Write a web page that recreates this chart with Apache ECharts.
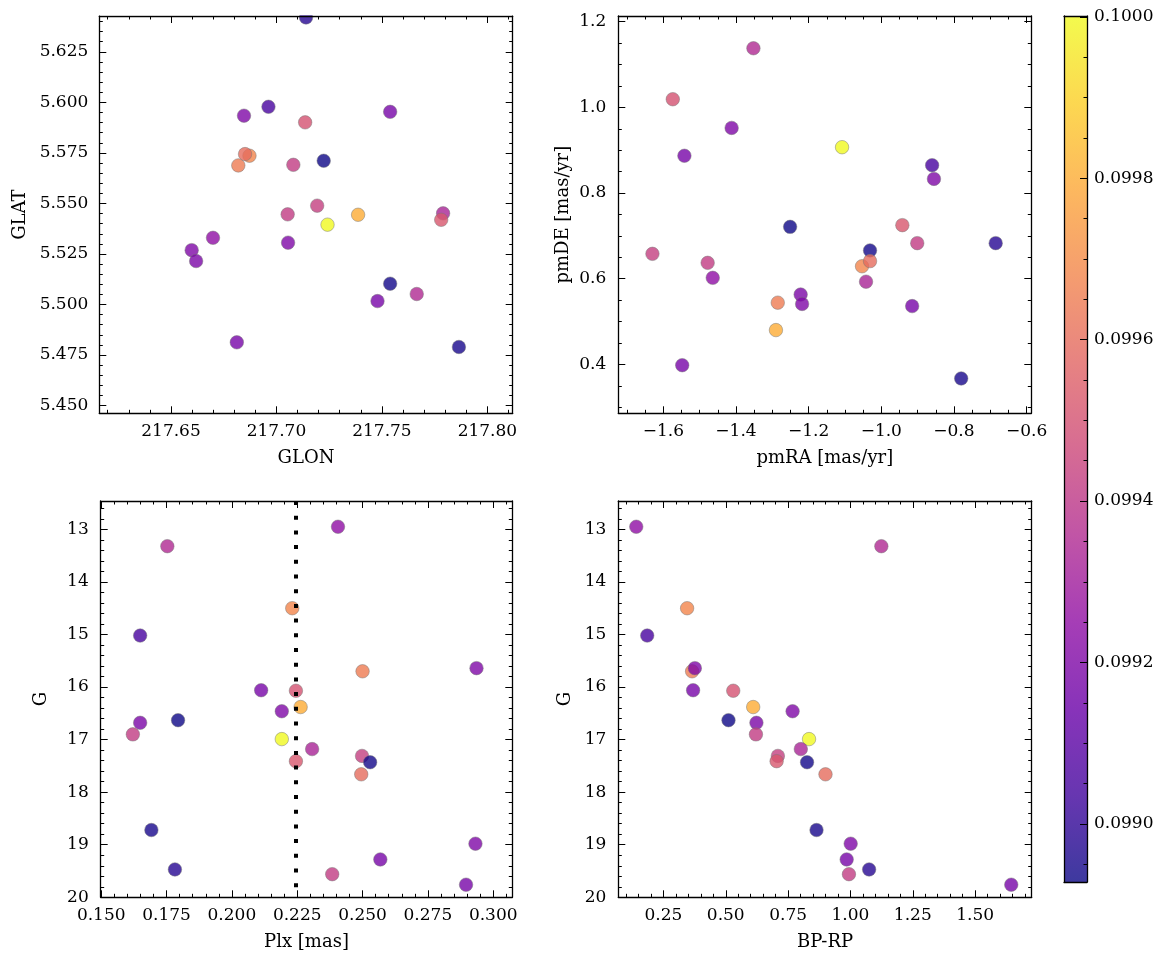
<!DOCTYPE html>
<html><head><meta charset="utf-8">
<script src="https://cdn.jsdelivr.net/npm/echarts@6/dist/echarts.min.js"></script>
<style>html,body{margin:0;padding:0;background:#fff}#c{width:1166px;height:965px}</style>
</head><body><div id="c"></div>
<script>
// ---- data (one entry per star) ----
const glon = [217.6699,217.7665,217.6872,217.6962,217.6819,217.6846,217.7539,217.7136,217.7387,217.6598,217.6619,217.7224,217.7080,217.7242,217.7790,217.7193,217.7539,217.7781,217.6851,217.7865,217.7055,217.7479,217.7140,217.7053,217.6812];
const glat = [5.5330,5.5052,5.5736,5.5978,5.5688,5.5934,5.5953,5.5901,5.5444,5.5269,5.5215,5.5711,5.5691,5.5395,5.5451,5.5489,5.5103,5.5419,5.5744,5.4790,5.5306,5.5017,5.6420,5.5446,5.4813];
const pmra = [-1.464,-1.352,-1.053,-0.860,-1.285,-1.412,-1.542,-1.574,-1.290,-0.855,-1.222,-1.251,-1.478,-1.108,-1.042,-1.630,-1.031,-0.942,-1.031,-0.780,-1.218,-0.915,-0.685,-0.901,-1.548];
const pmde = [0.602,1.138,0.629,0.865,0.544,0.952,0.887,1.019,0.480,0.833,0.563,0.721,0.637,0.907,0.593,0.658,0.666,0.725,0.641,0.367,0.541,0.536,0.683,0.683,0.398];
const plx  = [0.2406,0.1753,0.2231,0.1649,0.2500,0.2936,0.2112,0.2245,0.2263,0.2191,0.1649,0.1794,0.1621,0.2191,0.2307,0.2498,0.2529,0.2245,0.2495,0.1692,0.2932,0.2568,0.1782,0.2384,0.2896];
const gmag = [12.95,13.32,14.50,15.02,15.70,15.64,16.06,16.07,16.38,16.46,16.68,16.63,16.90,16.99,17.18,17.31,17.43,17.41,17.66,18.72,18.98,19.28,19.47,19.56,19.76];
const bprp = [0.141,1.124,0.345,0.185,0.365,0.376,0.369,0.530,0.610,0.768,0.623,0.511,0.621,0.834,0.801,0.709,0.826,0.704,0.900,0.864,1.001,0.985,1.075,0.994,1.645];
const cval = [0.09925,0.09935,0.09968,0.09905,0.09965,0.09920,0.09918,0.09950,0.09980,0.09920,0.09919,0.09893,0.09942,0.10000,0.09933,0.09943,0.09894,0.09952,0.09960,0.09895,0.09920,0.09918,0.09898,0.09942,0.09918];
const plxRef = 0.2245;
const cMin = 0.098928, cMax = 0.100001;

// ---- tick labels ----
const glonTicks = [217.65,217.70,217.75,217.80];
const glatTicks = [5.450,5.475,5.500,5.525,5.550,5.575,5.600,5.625];
const pmraTicks = [-1.6,-1.4,-1.2,-1.0,-0.8,-0.6];
const pmdeTicks = [0.4,0.6,0.8,1.0,1.2];
const plxTicks  = [0.150,0.175,0.200,0.225,0.250,0.275,0.300];
const gTicks    = [13,14,15,16,17,18,19,20];
const bprpTicks = [0.25,0.50,0.75,1.00,1.25,1.50];
const cbarTicks = [0.0990,0.0992,0.0994,0.0996,0.0998,0.1000];

const plasma = ['#0d0887','#41049d','#6a00a8','#8f0da4','#b12a90','#cc4778','#e16462','#f2844b','#fca636','#fcce25','#f0f921'];
const FONT = 'DejaVu Serif';

function minorTicks(min, max, step) {
  const out = [];
  const s = Math.ceil(min / step - 1e-9), e = Math.floor(max / step + 1e-9);
  for (let k = s; k <= e; k++) out.push(+(k * step).toFixed(8));
  return out;
}

const xAxes = [], yAxes = [];
function addAxes(list, dim, grid, o) {
  const sides = dim === 'x' ? ['bottom', 'top'] : ['left', 'right'];
  const mainIdx = list.length;
  sides.forEach((pos, si) => {
    [true, false].forEach(isMajor => {
      const showLab = (o.labelSide === undefined ? si === 0 : si === o.labelSide) && isMajor;
      list.push({
        type: 'value', gridIndex: grid, position: pos, min: o.min, max: o.max, inverse: !!o.inverse,
        name: (si === 0 && isMajor && o.name) ? o.name : '',
        nameLocation: 'middle', nameGap: o.nameGap || 30,
        nameTextStyle: { fontFamily: FONT, fontSize: 18, color: '#000' },
        axisLine: { show: isMajor && o.line !== false, onZero: false, lineStyle: { color: '#000', width: 1.3 } },
        axisTick: { show: o.ticks !== false && (o.tickSides ? o.tickSides.includes(si) : true), inside: true,
          length: isMajor ? 7 : 3.5, customValues: isMajor ? o.major : o.minor,
          lineStyle: { color: '#000', width: 1 } },
        axisLabel: { show: showLab, customValues: o.major, formatter: o.fmt, margin: o.margin,
          fontFamily: FONT, fontSize: 17, color: '#000' },
        splitLine: { show: false }, z: 3
      });
    });
  });
  return mainIdx;
}

const grids = [
  { left: 99.3, top: 16, width: 413.4, height: 397.3 },
  { left: 618.3, top: 16, width: 413, height: 397.3 },
  { left: 100.7, top: 501, width: 411.6, height: 396.3 },
  { left: 618.3, top: 501, width: 413.4, height: 396.3 },
  { left: 1064, top: 16, width: 23, height: 866 }
].map(g => Object.assign({ outerBoundsMode: 'none', containLabel: false, show: false }, g));

const fx = d => v => (+v).toFixed(d).replace('-', '\u2212');

// panel 1
const x1 = addAxes(xAxes, 'x', 0, { min: 217.616, max: 217.812, major: glonTicks, minor: minorTicks(217.616, 217.812, 0.01), fmt: fx(2), name: 'GLON', nameGap: 36, margin: 10 });
const y1 = addAxes(yAxes, 'y', 0, { min: 5.4462, max: 5.6427, major: glatTicks, minor: minorTicks(5.4462, 5.6427, 0.005), fmt: fx(3), name: 'GLAT', nameGap: 70, margin: 11 });
// panel 2
const x2 = addAxes(xAxes, 'x', 1, { min: -1.724, max: -0.587, major: pmraTicks, minor: minorTicks(-1.724, -0.587, 0.05), fmt: fx(1), name: 'pmRA [mas/yr]', nameGap: 36, margin: 10 });
const y2 = addAxes(yAxes, 'y', 1, { min: 0.2857, max: 1.2133, major: pmdeTicks, minor: minorTicks(0.2857, 1.2133, 0.05), fmt: fx(1), name: 'pmDE [mas/yr]', nameGap: 46, margin: 12 });
// panel 3
const x3 = addAxes(xAxes, 'x', 2, { min: 0.1498, max: 0.3073, major: plxTicks, minor: minorTicks(0.1498, 0.3073, 0.005), fmt: fx(3), name: 'Plx [mas]', nameGap: 36, margin: 10 });
const y3 = addAxes(yAxes, 'y', 2, { min: 12.46, max: 20.0, inverse: true, major: gTicks, minor: minorTicks(12.46, 20.0, 0.2), fmt: fx(0), name: 'G', nameGap: 50, margin: 12 });
// panel 4
const x4 = addAxes(xAxes, 'x', 3, { min: 0.069, max: 1.727, major: bprpTicks, minor: minorTicks(0.069, 1.727, 0.05), fmt: fx(2), name: 'BP-RP', nameGap: 36, margin: 10 });
const y4 = addAxes(yAxes, 'y', 3, { min: 12.46, max: 20.0, inverse: true, major: gTicks, minor: minorTicks(12.46, 20.0, 0.2), fmt: fx(0), name: 'G', nameGap: 44, margin: 12 });
// colorbar
const x5 = addAxes(xAxes, 'x', 4, { min: 0, max: 1, major: [], minor: [], ticks: false, fmt: fx(0), margin: 8, labelSide: -1 });
const y5 = addAxes(yAxes, 'y', 4, { min: cMin, max: cMax, major: cbarTicks, minor: minorTicks(cMin, cMax, 0.00005), fmt: fx(4), margin: 7, labelSide: 1, tickSides: [1] });

const pointStyle = { opacity: 0.8, borderColor: '#777', borderWidth: 0.6 };
function scatter(xi, yi, xs, ys, extra) {
  return Object.assign({
    type: 'scatter', xAxisIndex: xi, yAxisIndex: yi, symbolSize: 13.5,
    data: xs.map((v, i) => [v, ys[i], cval[i]]), itemStyle: pointStyle, z: 2
  }, extra || {});
}

const option = {
  animation: false,
  backgroundColor: '#fff',
  grid: grids,
  xAxis: xAxes,
  yAxis: yAxes,
  visualMap: {
    type: 'continuous', show: false, min: cMin, max: cMax, dimension: 2,
    seriesIndex: [0, 1, 2, 3], inRange: { color: plasma }
  },
  series: [
    scatter(x1, y1, glon, glat),
    scatter(x2, y2, pmra, pmde),
    scatter(x3, y3, plx, gmag, {
      markLine: {
        silent: true, precision: 6, symbol: ['none', 'none'], label: { show: false },
        lineStyle: { color: '#000', type: [4, 10.7], width: 4, cap: 'butt', opacity: 1 },
        data: [{ xAxis: plxRef }], z: 6
      }
    }),
    scatter(x4, y4, bprp, gmag),
    {
      type: 'custom', xAxisIndex: x5, yAxisIndex: y5, silent: true, z: 1,
      data: [[0, cMin]],
      renderItem: function (params, api) {
        const p0 = api.coord([0, cMax]);
        const p1 = api.coord([1, cMin]);
        return {
          type: 'rect',
          shape: { x: p0[0], y: p0[1], width: p1[0] - p0[0], height: p1[1] - p0[1] },
          style: {
            fill: new echarts.graphic.LinearGradient(0, 1, 0, 0,
              plasma.map((c, i) => ({ offset: i / (plasma.length - 1), color: c }))),
            opacity: 0.8
          }
        };
      }
    }
  ],
  graphic: [
    { type: 'rect', shape: { x: 95, y: 0, width: 425, height: 15.3 }, style: { fill: '#fff' }, z: 100 }
  ]
};

const chart = echarts.init(document.getElementById('c'), null, { renderer: 'canvas' });
chart.setOption(option);
</script>
</body></html>
